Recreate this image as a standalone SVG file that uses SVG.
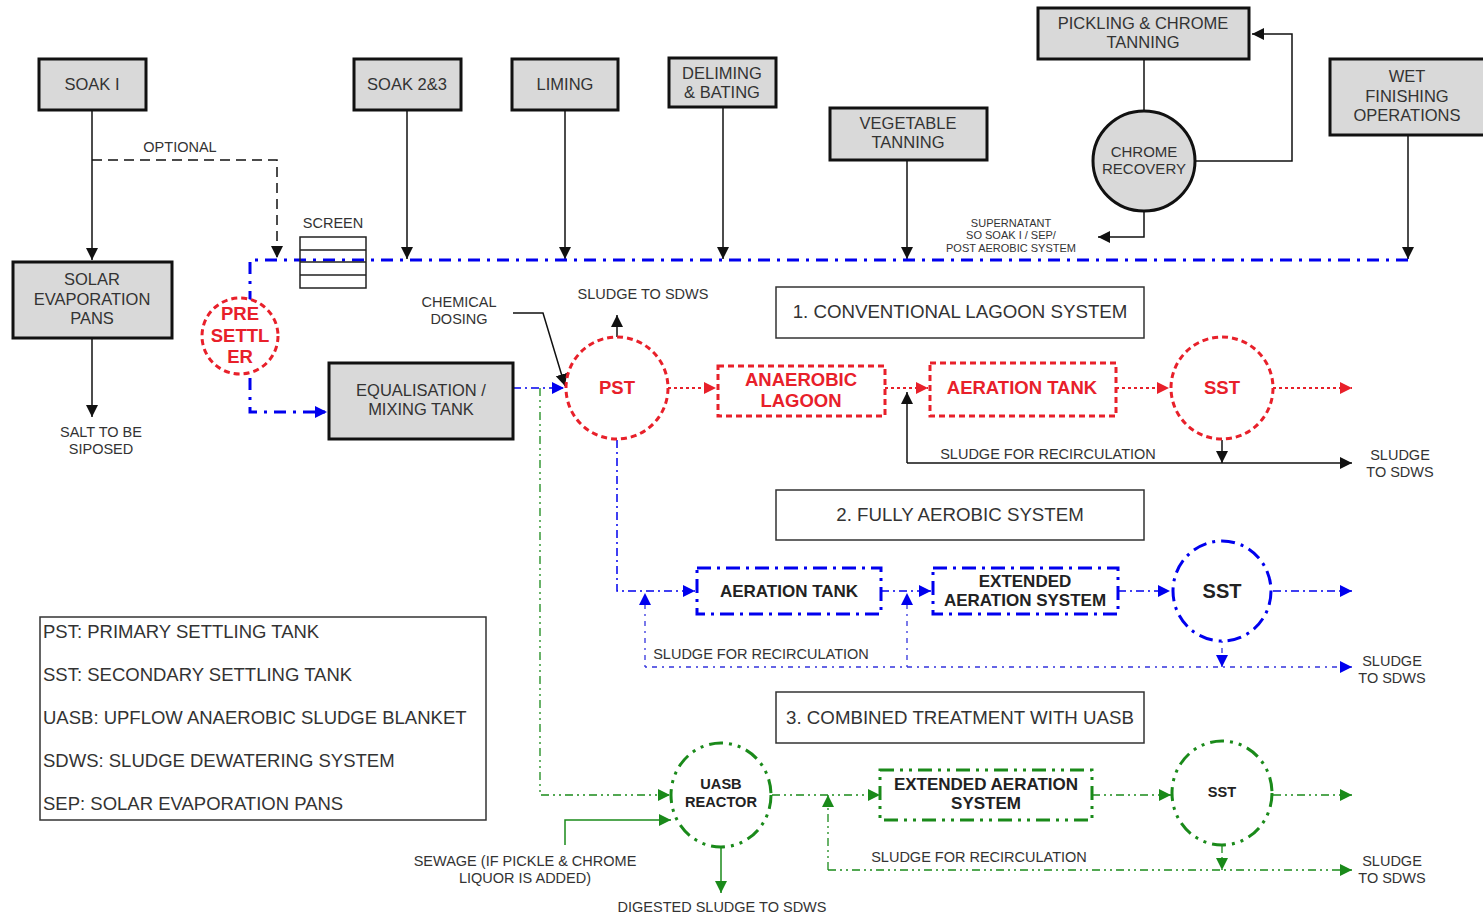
<svg xmlns="http://www.w3.org/2000/svg" width="1483" height="917" viewBox="0 0 1483 917">
<style>
text{font-family:"Liberation Sans",Arial,sans-serif;fill:#333;text-anchor:middle}
.box{fill:#d9d9d9;stroke:#111;stroke-width:3}
.bl{font-size:16.5px}
.sm{font-size:14.5px}
.xs{font-size:11px}
.lg{font-size:18.5px;text-anchor:start}
.red{fill:#e8202a;font-weight:bold;font-size:18.5px}
.bold{font-weight:bold;fill:#222}
.blk{stroke:#111;stroke-width:1.5;fill:none}
.rdash{fill:#fff;stroke:#e8202a;stroke-width:3;stroke-dasharray:6 4}
.rdot{stroke:#e8202a;stroke-width:2;stroke-dasharray:3 3;fill:none}
.bmain{stroke:#0000ee;stroke-width:3;stroke-dasharray:12 7 3 7;fill:none}
.bbox{fill:#fff;stroke:#0000ee;stroke-width:3;stroke-dasharray:14 6 3 6}
.bthin{stroke:#0000ee;stroke-width:1.5;stroke-dasharray:8 4 2 4;fill:none}
.bdot{stroke:#3333dd;stroke-width:1.3;stroke-dasharray:2 5 5 5;fill:none}
.gbox{fill:#fff;stroke:#1a8a1a;stroke-width:3;stroke-dasharray:14 6 3 6 3 6}
.gthin{stroke:#1a8a1a;stroke-width:1.3;stroke-dasharray:8 4 2 4 2 4;fill:none}
.gsolid{stroke:#1a8a1a;stroke-width:1.5;fill:none}
.title{fill:#fff;stroke:#333;stroke-width:1.5}
.tt{font-size:18.7px}
</style>
<defs>
<marker id="ak" markerUnits="userSpaceOnUse" markerWidth="14" markerHeight="14" refX="12" refY="7" orient="auto"><path d="M0,1 L12,7 L0,13 z" fill="#111"/></marker>
<marker id="ab" markerUnits="userSpaceOnUse" markerWidth="14" markerHeight="14" refX="12" refY="7" orient="auto"><path d="M0,1 L12,7 L0,13 z" fill="#0000ee"/></marker>
<marker id="ar" markerUnits="userSpaceOnUse" markerWidth="14" markerHeight="14" refX="12" refY="7" orient="auto"><path d="M0,1 L12,7 L0,13 z" fill="#e8202a"/></marker>
<marker id="ag" markerUnits="userSpaceOnUse" markerWidth="14" markerHeight="14" refX="12" refY="7" orient="auto"><path d="M0,1 L12,7 L0,13 z" fill="#1a8a1a"/></marker>
</defs>
<rect width="1483" height="917" fill="#fff"/>

<g id="connectors">
<path class="blk" d="M92,110 V260" marker-end="url(#ak)"/>
<path class="blk" d="M92,160 H277 V258" stroke-dasharray="10 6" marker-end="url(#ak)"/>
<path class="blk" d="M92,338 V417" marker-end="url(#ak)"/>
<path class="blk" d="M407,110 V259" marker-end="url(#ak)"/>
<path class="blk" d="M565,110 V259" marker-end="url(#ak)"/>
<path class="blk" d="M723,107 V259" marker-end="url(#ak)"/>
<path class="blk" d="M907,160 V259" marker-end="url(#ak)"/>
<path class="blk" d="M1408,135 V259" marker-end="url(#ak)"/>
<path class="blk" d="M1144,59 V111"/>
<path class="blk" d="M1196,161 H1292 V34 H1252" marker-end="url(#ak)"/>
<path class="blk" d="M1144,212 V237 H1098" marker-end="url(#ak)"/>
<path class="blk" d="M513,313 H543 L565,386" marker-end="url(#ak)"/>
<path class="blk" d="M617,337 V315" marker-end="url(#ak)"/>
<path class="bmain" d="M1408,260 H250 V412 H327" marker-end="url(#ab)"/>
<path class="bthin" d="M513,388 H564" marker-end="url(#ab)"/>
<path class="rdot" d="M668,388 H716" marker-end="url(#ar)"/>
<path class="rdot" d="M885,388 H928" marker-end="url(#ar)"/>
<path class="rdot" d="M1116,388 H1169" marker-end="url(#ar)"/>
<path class="rdot" d="M1273,388 H1352" marker-end="url(#ar)"/>
<path class="blk" d="M907,463 V392" marker-end="url(#ak)"/>
<path class="blk" d="M907,463 H1352" marker-end="url(#ak)"/>
<path class="blk" d="M1222,440 V463" marker-end="url(#ak)"/>
<path class="bthin" d="M617,440 V591 H695" marker-end="url(#ab)"/>
<path class="bthin" d="M881,591 H931" marker-end="url(#ab)"/>
<path class="bthin" d="M1118,591 H1170" marker-end="url(#ab)"/>
<path class="bthin" d="M1273,591 H1352" marker-end="url(#ab)"/>
<path class="bdot" d="M645,667 V593" marker-end="url(#ab)"/>
<path class="bdot" d="M907,667 V593" marker-end="url(#ab)"/>
<path class="bdot" d="M645,667 H1352" marker-end="url(#ab)"/>
<path class="bdot" d="M1222,641 V667" marker-end="url(#ab)"/>
<path class="gthin" d="M540,388 V795 H670" marker-end="url(#ag)"/>
<path class="gsolid" d="M565,845 V820 H671" marker-end="url(#ag)"/>
<path class="gsolid" d="M721,846 V893" marker-end="url(#ag)"/>
<path class="gthin" d="M772,795 H880" marker-end="url(#ag)"/>
<path class="gthin" d="M1092,795 H1171" marker-end="url(#ag)"/>
<path class="gthin" d="M1273,795 H1352" marker-end="url(#ag)"/>
<path class="gthin" d="M828,870 V795" marker-end="url(#ag)"/>
<path class="gthin" d="M828,870 H1352" marker-end="url(#ag)"/>
<path class="gthin" d="M1222,845 V870" marker-end="url(#ag)"/>
</g>

<g id="soak1"><rect class="box" x="39" y="59" width="107" height="51"/><text class="bl" x="92" y="90">SOAK I</text></g>
<g id="soak23"><rect class="box" x="354" y="59" width="107" height="51"/><text class="bl" x="407" y="90">SOAK 2&amp;3</text></g>
<g id="liming"><rect class="box" x="512" y="59" width="106" height="51"/><text class="bl" x="565" y="90">LIMING</text></g>
<g id="deliming"><rect class="box" x="669" y="58" width="107" height="49"/><text class="bl" x="722" y="79">DELIMING</text><text class="bl" x="722" y="98">&amp; BATING</text></g>
<g id="vegetable"><rect class="box" x="830" y="108" width="157" height="52"/><text class="bl" x="908" y="129">VEGETABLE</text><text class="bl" x="908" y="148">TANNING</text></g>
<g id="pickling"><rect class="box" x="1038" y="8" width="211" height="51"/><text class="bl" x="1143" y="29">PICKLING &amp; CHROME</text><text class="bl" x="1143" y="48">TANNING</text></g>
<g id="wet"><rect class="box" x="1330" y="59" width="155" height="76"/><text class="bl" x="1407" y="82">WET</text><text class="bl" x="1407" y="102">FINISHING</text><text class="bl" x="1407" y="121">OPERATIONS</text></g>
<g id="chrome"><ellipse cx="1144" cy="161" rx="51" ry="50" fill="#d9d9d9" stroke="#111" stroke-width="3"/><text x="1144" y="157" font-size="15">CHROME</text><text x="1144" y="174" font-size="15">RECOVERY</text></g>
<g id="solar"><rect class="box" x="13" y="262" width="159" height="76"/><text class="bl" x="92" y="285">SOLAR</text><text class="bl" x="92" y="305">EVAPORATION</text><text class="bl" x="92" y="324">PANS</text></g>
<g id="equal"><rect class="box" x="329" y="363" width="184" height="76"/><text class="bl" x="421" y="396">EQUALISATION /</text><text class="bl" x="421" y="415">MIXING TANK</text></g>
<g id="screen"><rect x="300" y="237" width="66" height="51" fill="none" stroke="#222" stroke-width="1.5"/><path d="M300,250 H366 M300,262 H366 M300,275 H366" stroke="#222" stroke-width="1.5"/><text class="sm" x="333" y="228">SCREEN</text></g>
<g id="presettler"><circle class="rdash" cx="240" cy="336" r="38"/><text class="red" x="240" y="320">PRE</text><text class="red" x="240" y="342">SETTL</text><text class="red" x="240" y="363">ER</text></g>
<g id="pst"><circle class="rdash" cx="617" cy="388" r="51"/><text class="red" x="617" y="394">PST</text></g>
<g id="lagoon"><rect class="rdash" x="718" y="366" width="167" height="50"/><text class="red" x="801" y="386">ANAEROBIC</text><text class="red" x="801" y="407">LAGOON</text></g>
<g id="aer1"><rect class="rdash" x="930" y="363" width="186" height="53"/><text class="red" x="1022" y="394">AERATION TANK</text></g>
<g id="sst1"><circle class="rdash" cx="1222" cy="388" r="51"/><text class="red" x="1222" y="394">SST</text></g>
<g id="aer2"><rect class="bbox" x="697" y="568" width="184" height="46"/><text class="bold" font-size="17" x="789" y="597">AERATION TANK</text></g>
<g id="ext2"><rect class="bbox" x="933" y="568" width="185" height="46"/><text class="bold" font-size="17" x="1025" y="587">EXTENDED</text><text class="bold" font-size="17" x="1025" y="606">AERATION SYSTEM</text></g>
<g id="sst2"><ellipse class="bbox" cx="1222" cy="591" rx="49" ry="50"/><text class="bold" font-size="20" x="1222" y="598">SST</text></g>
<g id="uasb"><ellipse class="gbox" cx="721" cy="795" rx="50" ry="52"/><text class="bold" font-size="14.6" x="721" y="789">UASB</text><text class="bold" font-size="14.6" x="721" y="807">REACTOR</text></g>
<g id="ext3"><rect class="gbox" x="880" y="770" width="212" height="50"/><text class="bold" font-size="17" x="986" y="790">EXTENDED AERATION</text><text class="bold" font-size="17" x="986" y="809">SYSTEM</text></g>
<g id="sst3"><ellipse class="gbox" cx="1222" cy="793" rx="50" ry="52"/><text class="bold" font-size="14.6" x="1222" y="797">SST</text></g>

<g id="titles">
<rect class="title" x="776" y="287" width="368" height="51"/><text class="tt" x="960" y="318">1. CONVENTIONAL LAGOON SYSTEM</text>
<rect class="title" x="776" y="490" width="368" height="50"/><text class="tt" x="960" y="521">2. FULLY AEROBIC SYSTEM</text>
<rect class="title" x="776" y="692" width="368" height="51"/><text class="tt" x="960" y="724">3. COMBINED TREATMENT WITH UASB</text>
</g>

<g id="labels">
<text class="sm" x="180" y="152">OPTIONAL</text>
<text class="sm" x="101" y="437">SALT TO BE</text>
<text class="sm" x="101" y="454">SIPOSED</text>
<text class="xs" x="1011" y="227">SUPERNATANT</text>
<text class="xs" x="1011" y="239">SO SOAK I / SEP/</text>
<text class="xs" x="1011" y="252">POST AEROBIC SYSTEM</text>
<text class="sm" x="459" y="307">CHEMICAL</text>
<text class="sm" x="459" y="324">DOSING</text>
<text class="sm" x="643" y="299">SLUDGE TO SDWS</text>
<text class="sm" x="1048" y="459">SLUDGE FOR RECIRCULATION</text>
<text class="sm" x="1400" y="460">SLUDGE</text>
<text class="sm" x="1400" y="477">TO SDWS</text>
<text class="sm" x="761" y="659">SLUDGE FOR RECIRCULATION</text>
<text class="sm" x="1392" y="666">SLUDGE</text>
<text class="sm" x="1392" y="683">TO SDWS</text>
<text class="sm" x="979" y="862">SLUDGE FOR RECIRCULATION</text>
<text class="sm" x="1392" y="866">SLUDGE</text>
<text class="sm" x="1392" y="883">TO SDWS</text>
<text class="sm" x="525" y="866">SEWAGE (IF PICKLE &amp; CHROME</text>
<text class="sm" x="525" y="883">LIQUOR IS ADDED)</text>
<text class="sm" x="722" y="912">DIGESTED SLUDGE TO SDWS</text>
</g>

<g id="legend">
<rect x="40" y="617" width="446" height="203" fill="#fff" stroke="#333" stroke-width="1.5"/>
<text class="lg" x="43" y="638">PST: PRIMARY SETTLING TANK</text>
<text class="lg" x="43" y="681">SST: SECONDARY SETTLING TANK</text>
<text class="lg" x="43" y="724">UASB: UPFLOW ANAEROBIC SLUDGE BLANKET</text>
<text class="lg" x="43" y="767">SDWS: SLUDGE DEWATERING SYSTEM</text>
<text class="lg" x="43" y="810">SEP: SOLAR EVAPORATION PANS</text>
</g>
</svg>
